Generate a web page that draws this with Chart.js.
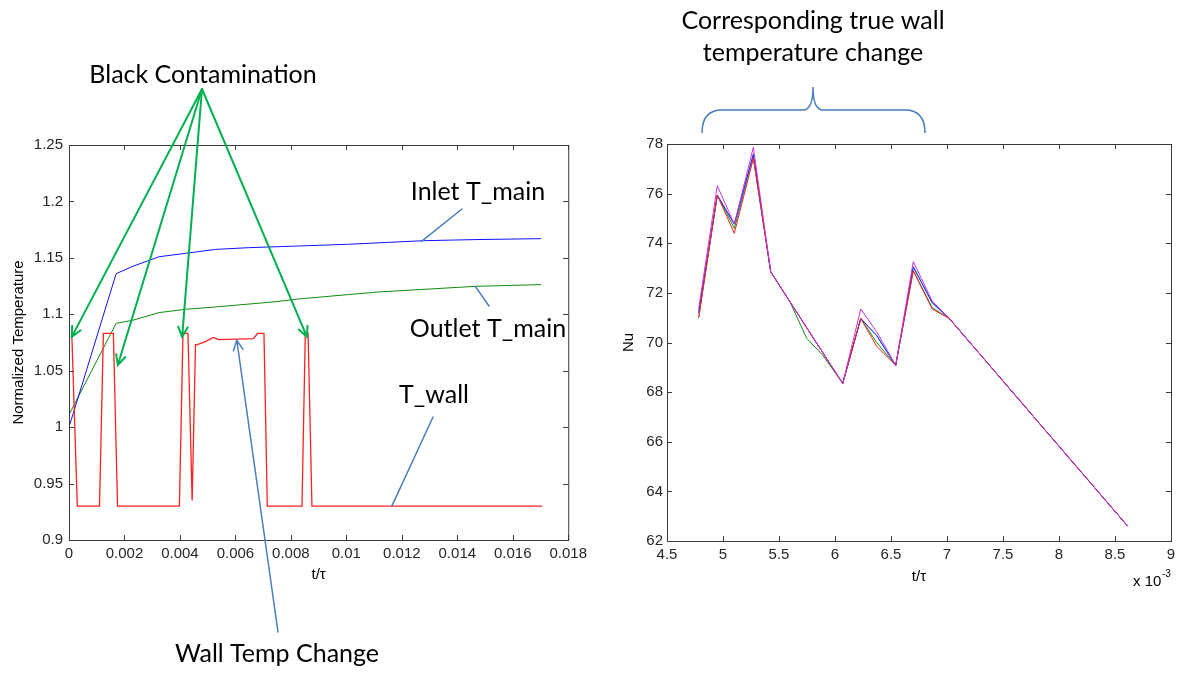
<!DOCTYPE html>
<html>
<head>
<meta charset="utf-8">
<script src="https://cdn.jsdelivr.net/npm/chart.js@4.4.1/dist/chart.umd.min.js"></script>
<style>
  html, body { margin: 0; padding: 0; background: #fff; }
  #wrap { position: relative; width: 1184px; height: 673px; overflow: hidden; }
  .panel { position: absolute; top: 0; width: 592px; height: 673px; }
</style>
</head>
<body>
<div id="wrap">
  <div class="panel" style="left:0"><canvas id="tempChart" width="592" height="673"></canvas></div>
  <div class="panel" style="left:592px"><canvas id="nuChart" width="592" height="673"></canvas></div>
</div>
<script>
// ---- left panel: normalized temperature vs t/tau ----
const wallTime = [0.0001, 0.0003, 0.0011, 0.00124, 0.0016, 0.00175, 0.00398, 0.00411, 0.00429, 0.00444,
                  0.00456, 0.0046, 0.0049, 0.0052, 0.0054, 0.00665, 0.0068, 0.00703, 0.00715,
                  0.0084, 0.00852, 0.00862, 0.00876, 0.01706];
const wallTemp = [1.083, 0.93, 0.93, 1.083, 1.083, 0.93, 0.93, 1.083, 1.083, 0.935,
                  1.073, 1.073, 1.0755, 1.0795, 1.0775, 1.0785, 1.083, 1.083, 0.93,
                  0.93, 1.083, 1.083, 0.93, 0.93];

const inletTime = [0, 0.0017, 0.0023, 0.00325, 0.0042, 0.00528, 0.00646, 0.00825, 0.01004, 0.01278, 0.01468, 0.01702];
const inletTemp = [1.0, 1.136, 1.1425, 1.151, 1.154, 1.1575, 1.159, 1.1605, 1.162, 1.1652, 1.1662, 1.167];

const outletTime = [0, 0.0017, 0.0023, 0.00325, 0.0042, 0.00528, 0.0074, 0.00825, 0.01111, 0.01468, 0.01702];
const outletTemp = [1.011, 1.092, 1.0947, 1.1015, 1.1044, 1.1065, 1.111, 1.1135, 1.1197, 1.1248, 1.1263];

const tempTicksX = [0, 0.002, 0.004, 0.006, 0.008, 0.01, 0.012, 0.014, 0.016, 0.018];
const tempLabelsX = ['0', '0.002', '0.004', '0.006', '0.008', '0.01', '0.012', '0.014', '0.016', '0.018'];
const tempTicksY = [0.9, 0.95, 1, 1.05, 1.1, 1.15, 1.2, 1.25];
const tempLabelsY = ['0.9', '0.95', '1', '1.05', '1.1', '1.15', '1.2', '1.25'];

// spots on T_wall hit by the contamination arrows
const spikeTime = [0.0001, 0.00176, 0.00408, 0.00858];
const spikeTemp = [1.08, 1.055, 1.08, 1.08];

// ---- right panel: Nu vs t/tau (x 10^-3) ----
const nuTime    = [4.783, 4.949, 5.101, 5.271, 5.426, 5.598, 5.747, 5.89, 6.069, 6.23, 6.372, 6.542, 6.699, 6.868, 7.02, 8.613];
const nuMagenta = [71.37, 76.32, 74.77, 77.87, 72.85, 71.64, null, null, 68.35, 71.35, 70.43, 69.08, 73.26, 71.67, 70.97, 62.6];
const nuRed     = [71.0, 75.94, 74.40, 77.42, 72.85, 71.64, null, null, 68.35, 70.97, 69.85, 69.08, 72.89, 71.35, 70.97, 62.6];
const nuBlue    = [71.2, 75.94, 74.77, 77.6, 72.85, 71.64, null, null, 68.35, 70.97, 70.28, 69.08, 73.05, 71.6, 70.97, 62.6];
const nuCyan    = [71.2, 75.94, 74.77, 77.42, 72.85, 71.64, null, null, 68.35, 70.97, 70.28, 69.08, 73.05, 71.6, 70.97, 62.6];
const nuGreen   = [71.0, 75.94, 74.6, 77.5, 72.85, 71.64, 70.17, 69.49, 68.35, 70.97, 70.0, 69.08, 72.9, 71.4, 70.97, 62.6];

const nuTicksX = [4.5, 5, 5.5, 6, 6.5, 7, 7.5, 8, 8.5, 9];
const nuLabelsX = ['4.5', '5', '5.5', '6', '6.5', '7', '7.5', '8', '8.5', '9'];
const nuTicksY = [62, 64, 66, 68, 70, 72, 74, 76, 78];
const nuLabelsY = ['62', '64', '66', '68', '70', '72', '74', '76', '78'];

Chart.defaults.font.family = '"Liberation Sans", Arial, sans-serif';
Chart.defaults.font.size = 15;
Chart.defaults.color = '#262626';

const AXIS_FONT = '15px "Liberation Sans", Arial, sans-serif';
const NOTE_FONT = '25px Lato, "Open Sans", sans-serif';
const CALLOUT = '#4a7ebb';
const ARROW_GREEN = '#00b050';

function zip(xs, ys) {
    return xs.map((x, i) => ({ x: x, y: ys[i] }));
}

function line(label, xs, ys, color, width) {
    return {
        label: label,
        data: zip(xs, ys),
        borderColor: color,
        borderWidth: width || 1,
        pointRadius: 0,
        tension: 0,
        spanGaps: true,
        fill: false
    };
}

// fixed tick list + labels, no grid, no built-in border (box is drawn below)
function axis(ticks, labels, pad) {
    return {
        type: 'linear',
        min: ticks[0],
        max: ticks[ticks.length - 1],
        afterBuildTicks: scale => { scale.ticks = ticks.map(v => ({ value: v })); },
        ticks: {
            autoSkip: false,
            maxRotation: 0,
            padding: pad,
            callback: (v, i) => labels[i]
        },
        grid: { display: false, drawTicks: false },
        border: { display: false }
    };
}

function text(ctx, str, x, y, font, align, rot) {
    ctx.save();
    ctx.font = font;
    ctx.fillStyle = '#000';
    ctx.textAlign = align || 'center';
    ctx.textBaseline = 'alphabetic';
    ctx.translate(x, y);
    if (rot) ctx.rotate(rot);
    ctx.fillText(str, 0, 0);
    ctx.restore();
}

// straight line, optional open "V" head at the far end
function arrow(ctx, from, to, color, width, head) {
    ctx.save();
    ctx.strokeStyle = color;
    ctx.lineWidth = width;
    ctx.lineCap = 'round';
    ctx.beginPath();
    ctx.moveTo(from[0], from[1]);
    ctx.lineTo(to[0], to[1]);
    if (head) {
        const ang = Math.atan2(to[1] - from[1], to[0] - from[0]);
        const len = 11, spread = 0.45;
        ctx.moveTo(to[0] - len * Math.cos(ang - spread), to[1] - len * Math.sin(ang - spread));
        ctx.lineTo(to[0], to[1]);
        ctx.lineTo(to[0] - len * Math.cos(ang + spread), to[1] - len * Math.sin(ang + spread));
    }
    ctx.stroke();
    ctx.restore();
}

// matlab style box with inward ticks on all four sides
const boxTicks = {
    id: 'boxTicks',
    afterDraw(chart) {
        const ctx = chart.ctx, a = chart.chartArea;
        const xs = chart.scales.x, ys = chart.scales.y;
        ctx.save();
        ctx.strokeStyle = '#3a3a3a';
        ctx.lineWidth = 1;
        ctx.beginPath();
        xs.ticks.forEach(t => {
            const px = Math.round(xs.getPixelForValue(t.value)) + 0.5;
            ctx.moveTo(px, a.bottom); ctx.lineTo(px, a.bottom - 5);
            ctx.moveTo(px, a.top); ctx.lineTo(px, a.top + 5);
        });
        ys.ticks.forEach(t => {
            const py = Math.round(ys.getPixelForValue(t.value)) + 0.5;
            ctx.moveTo(a.left, py); ctx.lineTo(a.left + 5, py);
            ctx.moveTo(a.right, py); ctx.lineTo(a.right - 5, py);
        });
        ctx.stroke();
        ctx.strokeRect(a.left + 0.5, a.top + 0.5, a.right - a.left, a.bottom - a.top);
        ctx.restore();
    }
};

const tempNotes = {
    id: 'tempNotes',
    afterDraw(chart) {
        const ctx = chart.ctx, a = chart.chartArea;
        const xs = chart.scales.x, ys = chart.scales.y;
        const at = (t, v) => [xs.getPixelForValue(t), ys.getPixelForValue(v)];

        text(ctx, 't/\u03c4', (a.left + a.right) / 2, 579, AXIS_FONT);
        text(ctx, 'Normalized Temperature', 23, (a.top + a.bottom) / 2, AXIS_FONT, 'center', -Math.PI / 2);

        // black contamination: one apex, four arrows onto T_wall
        const apex = [202, 89];
        spikeTime.forEach((t, i) => arrow(ctx, apex, at(t, spikeTemp[i]), ARROW_GREEN, 2, true));
        text(ctx, 'Black Contamination', 203, 83, NOTE_FONT);

        // callouts
        arrow(ctx, [462, 209], at(0.01271, 1.1646), CALLOUT, 1.5, false);
        text(ctx, 'Inlet T_main', 478, 200, NOTE_FONT);

        arrow(ctx, at(0.01465, 1.1247), [489, 306], CALLOUT, 1.5, false);
        text(ctx, 'Outlet T_main', 488, 337, NOTE_FONT);

        arrow(ctx, [433, 417], at(0.01164, 0.93), CALLOUT, 1.5, false);
        text(ctx, 'T_wall', 434, 403, NOTE_FONT);

        arrow(ctx, [278, 632], at(0.00605, 1.077), CALLOUT, 1.5, true);
        text(ctx, 'Wall Temp Change', 277, 662, NOTE_FONT);
    }
};

const nuNotes = {
    id: 'nuNotes',
    afterDraw(chart) {
        const ctx = chart.ctx, a = chart.chartArea;

        text(ctx, 't/\u03c4', (a.left + a.right) / 2, 581, AXIS_FONT);
        text(ctx, 'Nu', 41, (a.top + a.bottom) / 2, AXIS_FONT, 'center', -Math.PI / 2);
        text(ctx, 'x 10', 541, 586, AXIS_FONT, 'left');
        text(ctx, '-3', 570, 577, '10px "Liberation Sans", Arial, sans-serif', 'left');

        text(ctx, 'Corresponding true wall', 221, 29, NOTE_FONT);
        text(ctx, 'temperature change', 221, 61, NOTE_FONT);

        // curly brace over the span
        ctx.save();
        ctx.strokeStyle = CALLOUT;
        ctx.lineWidth = 1.5;
        ctx.beginPath();
        ctx.moveTo(110, 133);
        ctx.quadraticCurveTo(110, 110, 130, 110);
        ctx.lineTo(211, 110);
        ctx.quadraticCurveTo(221, 110, 221, 87);
        ctx.quadraticCurveTo(221, 110, 231, 110);
        ctx.lineTo(313, 110);
        ctx.quadraticCurveTo(333, 110, 333, 133);
        ctx.stroke();
        ctx.restore();
    }
};

function fixedBox(width, height) {
    return { afterFit: scale => {
        if (width !== undefined) scale.width = width;
        if (height !== undefined) scale.height = height;
    } };
}

const tempX = Object.assign(axis(tempTicksX, tempLabelsX, 5), fixedBox(undefined, 133));
const tempY = Object.assign(axis(tempTicksY, tempLabelsY, 6), fixedBox(69, undefined));

new Chart(document.getElementById('tempChart'), {
    type: 'line',
    data: {
        datasets: [
            line('T_wall', wallTime, wallTemp, '#ff2020', 1.3),
            line('Inlet T_main', inletTime, inletTemp, '#1010ff', 1),
            line('Outlet T_main', outletTime, outletTemp, '#108a10', 1)
        ]
    },
    options: {
        responsive: false,
        devicePixelRatio: 1,
        animation: false,
        layout: { padding: { top: 145, right: 19, left: 0, bottom: 0 } },
        plugins: { legend: { display: false }, tooltip: { enabled: false } },
        scales: { x: tempX, y: tempY }
    },
    plugins: [boxTicks, tempNotes]
});

const nuX = Object.assign(axis(nuTicksX, nuLabelsX, 5), fixedBox(undefined, 132));
const nuY = Object.assign(axis(nuTicksY, nuLabelsY, 4), fixedBox(75, undefined));

new Chart(document.getElementById('nuChart'), {
    type: 'line',
    data: {
        datasets: [
            line('magenta', nuTime, nuMagenta, '#d030d8', 1),
            line('red', nuTime, nuRed, '#ff2020', 1),
            line('blue', nuTime, nuBlue, '#2020ff', 1),
            line('cyan', nuTime, nuCyan, '#10c0c0', 1),
            line('green', nuTime, nuGreen, '#109010', 1)
        ]
    },
    options: {
        responsive: false,
        devicePixelRatio: 1,
        animation: false,
        layout: { padding: { top: 144, right: 13, left: 0, bottom: 0 } },
        plugins: { legend: { display: false }, tooltip: { enabled: false } },
        scales: { x: nuX, y: nuY }
    },
    plugins: [boxTicks, nuNotes]
});
</script>
</body>
</html>
